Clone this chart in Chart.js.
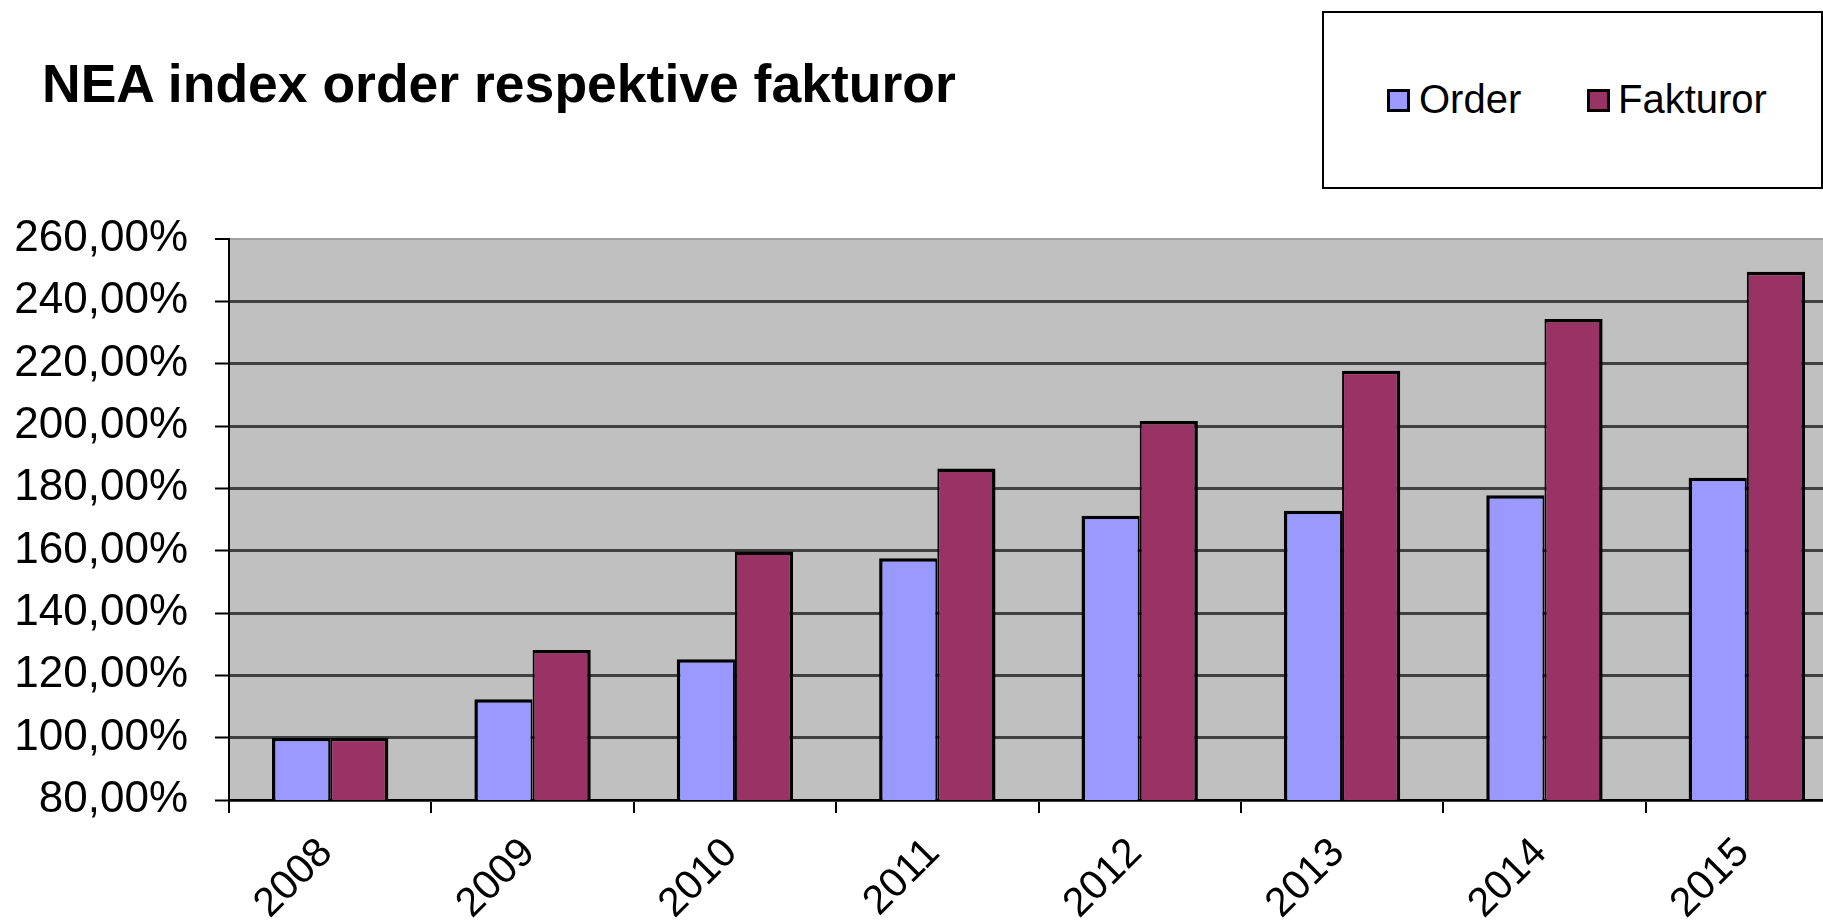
<!DOCTYPE html>
<html lang="sv">
<head>
<meta charset="UTF-8">
<title>NEA index order respektive fakturor</title>
<script src="https://cdn.jsdelivr.net/npm/chart.js"></script>
<style>
    html, body { margin: 0; padding: 0; background: #fff; overflow: hidden; }
    body { width: 1823px; height: 924px; position: relative; font-family: "Liberation Sans", Arial, sans-serif; }
    #wrap { position: absolute; left: 0; top: 0; width: 1850px; height: 924px; }
    #title { position: absolute; left: 42px; top: 57px; font-size: 53.5px; line-height: 53px; font-weight: bold; white-space: nowrap; }
    #legend { position: absolute; left: 1322px; top: 11px; width: 497px; height: 174px; border: 2px solid #000; background: #fff; }
    #legend .box { position: absolute; top: 76px; width: 23px; height: 23px; box-sizing: border-box; border: 3px solid #000; }
    #legend .lbl { position: absolute; top: 66px; font-size: 40px; line-height: 40px; white-space: nowrap; color: #000; }
</style>
</head>
<body>
    <div id="wrap"><canvas id="chart"></canvas></div>
    <div id="title">NEA index order respektive fakturor</div>
    <div id="legend"></div>
<script>
    const years = ['2008', '2009', '2010', '2011', '2012', '2013', '2014', '2015'];
    const orderValues = [100, 112.3, 125.2, 157.6, 171.2, 172.8, 177.8, 183.4];
    const fakturorValues = [100, 128.1, 159.7, 186.4, 201.6, 217.7, 234.3, 249.5];
    const seriesNames = ['Order', 'Fakturor'];
    const yMin = 80, yMax = 260, yStep = 20;

    const colors = ['#9999FF', '#993366'];

    // grey plot area
    const plotBg = {
        id: 'plotBg',
        beforeDraw(chart) {
            const { ctx, chartArea: a } = chart;
            ctx.save();
            ctx.fillStyle = '#C0C0C0';
            ctx.fillRect(a.left, a.top, a.right - a.left, a.bottom - a.top);
            ctx.restore();
        }
    };

    Chart.defaults.font.family = '"Liberation Sans", Arial, sans-serif';
    Chart.defaults.color = '#000';

    new Chart(document.getElementById('chart'), {
        type: 'bar',
        data: {
            labels: years,
            datasets: [{
                label: seriesNames[0],
                data: orderValues,
                backgroundColor: colors[0],
                borderColor: '#000',
                borderWidth: { top: 3.5, left: 3.5, right: 2, bottom: 0 },
                barPercentage: 1,
                categoryPercentage: 0.575
            }, {
                label: seriesNames[1],
                data: fakturorValues,
                backgroundColor: colors[1],
                borderColor: '#000',
                borderWidth: { top: 3.5, left: 2, right: 3.5, bottom: 0 },
                barPercentage: 1,
                categoryPercentage: 0.575
            }]
        },
        options: {
            responsive: true,
            maintainAspectRatio: false,
            animation: false,
            layout: { padding: { top: 239, right: 2, left: 0, bottom: 0 } },
            plugins: {
                legend: { display: false },
                title: { display: false },
                tooltip: { enabled: false }
            },
            scales: {
                x: {
                    offset: true,
                    grid: { drawOnChartArea: false, drawTicks: true, tickLength: 13, color: '#000', lineWidth: 2, offset: true },
                    border: { display: true, color: '#000', width: 2 },
                    ticks: { font: { size: 41 }, color: '#000', minRotation: 45, maxRotation: 45, autoSkip: false, padding: 16, labelOffset: -4 },
                    afterFit: s => { s.height = 124; }
                },
                y: {
                    min: yMin,
                    max: yMax,
                    ticks: {
                        stepSize: yStep,
                        font: { size: 44 },
                        color: '#000',
                        padding: 27,
                        callback: v => v.toFixed(2).replace('.', ',') + '%'
                    },
                    grid: {
                        color: c => c.tick && c.tick.value === yMax ? '#a0a0a0' : '#404040',
                        lineWidth: c => c.tick && c.tick.value === yMax ? 2 : 3,
                        tickLength: 14,
                        tickColor: '#000',
                        tickWidth: 2
                    },
                    border: { color: '#000', width: 2 },
                    afterFit: s => { s.width = 229; }
                }
            }
        },
        plugins: [plotBg]
    });

    // legend box
    const legend = document.getElementById('legend');
    const boxLeft = [63, 263];
    const lblLeft = [95, 294];
    seriesNames.forEach((name, i) => {
        const b = document.createElement('div');
        b.className = 'box';
        b.style.left = boxLeft[i] + 'px';
        b.style.background = colors[i];
        legend.appendChild(b);
        const t = document.createElement('span');
        t.className = 'lbl';
        t.style.left = lblLeft[i] + 'px';
        t.textContent = name;
        legend.appendChild(t);
    });
</script>
</body>
</html>
